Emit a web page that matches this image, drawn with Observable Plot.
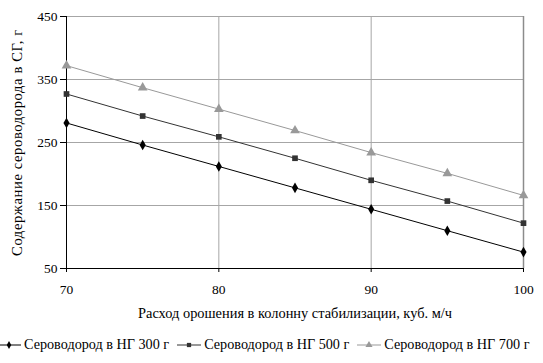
<!DOCTYPE html>
<html><head><meta charset="utf-8">
<script src="https://cdn.jsdelivr.net/npm/d3@7"></script>
<script src="https://cdn.jsdelivr.net/npm/@observablehq/plot@0.6"></script>
<style>
body{margin:0;background:#fff;font-family:"Liberation Serif","Times New Roman",serif;}
#chart svg{display:block;}
#legend{display:flex;justify-content:flex-start;align-items:center;gap:8px;font-size:14.2px;color:#000;margin-top:6px;margin-left:-3px;white-space:nowrap;}
#legend .item{display:flex;align-items:center;gap:3px;}
</style></head><body><div id="chart"></div><div id="legend"></div>
<script>
const flows = [70, 75, 80, 85, 90, 95, 100];
const s300 = [281, 246, 212, 178, 144, 110, 76];
const s500 = [327, 292, 259, 225, 190, 157, 122];
const s700 = [372, 337, 303, 269, 234, 201, 166];
const seriesNames = ["Сероводород в НГ 300 г", "Сероводород в НГ 500 г", "Сероводород в НГ 700 г"];
const seriesColors = ["#000000", "#333333", "#999999"];
const seriesSymbols = ["diamond", "square", "triangle"];
const xTicks = [70, 80, 90, 100];
const yTicks = [50, 150, 250, 350, 450];
const xTitle = "Расход орошения в колонну стабилизации, куб. м/ч";
const yTitle = "Содержание сероводорода в СГ, г";

const allSeries = [s300, s500, s700];
const data = [];
allSeries.forEach((vals, si) => vals.forEach((v, i) => data.push({x: flows[i], y: v, s: seriesNames[si]})));

const marks = [
  Plot.ruleX(xTicks.slice(1), {stroke: "#a6a6a6", strokeWidth: 1}),
  Plot.ruleY(yTicks.slice(1), {stroke: "#a6a6a6", strokeWidth: 1}),
  Plot.ruleX([100], {stroke: "#8c8c8c", strokeWidth: 1.5}),
  Plot.ruleY([50], {stroke: "#000"}),
  Plot.ruleX([70], {stroke: "#000"}),
  Plot.axisX({ticks: xTicks, tickSize: 4, tickPadding: 12, fontSize: 13.5, tickFormat: d => String(d), label: null}),
  Plot.axisY({ticks: yTicks, tickSize: 6, tickPadding: 3, fontSize: 13.5, tickFormat: d => String(d), label: null}),
  Plot.text([xTitle], {frameAnchor: "bottom", dy: 49, fontSize: 14.4, text: d => d}),
  Plot.text([yTitle], {frameAnchor: "left", textAnchor: "middle", dx: -49, rotate: -90, fontSize: 14.6, text: d => d})
];
seriesNames.forEach((name, si) => {
  const d = data.filter(r => r.s === name);
  marks.push(Plot.line(d, {x: "x", y: "y", stroke: seriesColors[si], strokeWidth: 1}));
  marks.push(Plot.dot(d, {x: "x", y: "y", fill: seriesColors[si], stroke: "none", symbol: () => seriesSymbols[si], r: si === 2 ? 3.6 : 3.2}));
});

const chart = Plot.plot({
  width: 543, height: 330,
  marginLeft: 66, marginRight: 20, marginTop: 16, marginBottom: 62,
  style: {fontFamily: "'Liberation Serif','Times New Roman',serif", fontSize: "13.5px", color: "#000", background: "#fff"},
  x: {domain: [70, 100]},
  y: {domain: [50, 450]},
  symbol: {domain: seriesSymbols, range: seriesSymbols},
  marks
});
chart.querySelectorAll("text").forEach(t => { if (t.textContent === yTitle) t.setAttribute("letter-spacing", "0.6"); });
document.getElementById("chart").appendChild(chart);

const symTypes = [d3.symbolDiamond, d3.symbolSquare, d3.symbolTriangle];
const lg = document.getElementById("legend");
seriesNames.forEach((name, si) => {
  const it = document.createElement("span");
  it.className = "item";
  const sym = d3.symbol(symTypes[si], si === 2 ? 22 : 18)();
  it.innerHTML = `<svg width="24" height="12"><line x1="0" x2="24" y1="6" y2="6" stroke="${seriesColors[si]}"/><path transform="translate(12,6)" d="${sym}" fill="${seriesColors[si]}"/></svg><span>${name}</span>`;
  lg.appendChild(it);
});
</script>
</body></html>
